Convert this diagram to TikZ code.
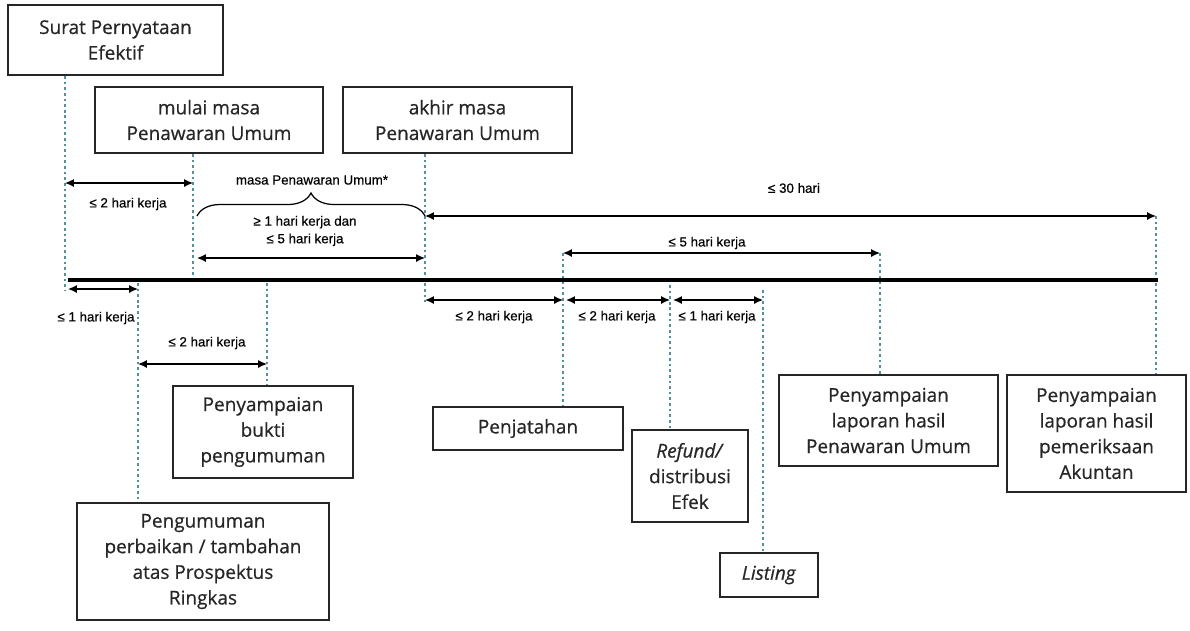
\documentclass[tikz,border=0pt]{standalone}
\usepackage{fontspec}
\setmainfont{Open Sans}[FakeBold=0.6]
\newfontfamily\labelfont{Liberation Sans}[FakeBold=0.5]
\usetikzlibrary{arrows.meta,decorations.pathreplacing}

\definecolor{guidecol}{RGB}{84,146,155}

\begin{document}
\begin{tikzpicture}[x=0.02cm,y=-0.02cm,
  box/.style={draw=black!85,line width=1.3pt,align=center,inner sep=0pt,
    text=black!85,font=\fontsize{10.8}{14.6}\selectfont},
  guide/.style={guidecol,line width=1.5pt,dash pattern=on 1.5pt off 1.7pt},
  span/.style={{Latex[length=5pt,width=4.5pt]}-{Latex[length=5pt,width=4.5pt]},line width=0.7pt},
  lbl/.style={inner sep=0pt,align=center,font=\labelfont\fontsize{7.6}{10}\selectfont}]
  \useasboundingbox (0,0) rectangle (1190,630);

  % boxes above the line
  \node[box,minimum width=4.3cm,minimum height=1.4cm] (spe) at (115.5,40) {Surat Pernyataan\\Efektif};
  \node[box,minimum width=4.56cm,minimum height=1.32cm] (mulai) at (209,120) {mulai masa\\Penawaran Umum};
  \node[box,minimum width=4.58cm,minimum height=1.32cm] (akhir) at (457.5,120) {akhir masa\\Penawaran Umum};

  % boxes below the line
  \node[box,minimum width=3.6cm,minimum height=1.84cm] (bukti) at (263,432) {Penyampaian\\bukti\\pengumuman};
  \node[box,minimum width=5.04cm,minimum height=2.34cm] (ralat) at (203,561.5) {Pengumuman\\perbaikan / tambahan\\atas Prospektus\\Ringkas};
  \node[box,minimum width=3.8cm,minimum height=0.86cm] (jatah) at (528,428.5) {Penjatahan};
  \node[box,minimum width=2.32cm,minimum height=1.84cm] (refund) at (690,476) {\textit{Refund/}\\distribusi\\Efek};
  \node[box,minimum width=1.96cm,minimum height=0.88cm] (listing) at (769,575) {\textit{Listing}};
  \node[box,minimum width=4.38cm,minimum height=1.82cm] (lapor) at (888.5,420.5) {Penyampaian\\laporan hasil\\Penawaran Umum};
  \node[box,minimum width=3.58cm,minimum height=2.34cm] (akuntan) at (1096.5,433.5) {Penyampaian\\laporan hasil\\pemeriksaan\\Akuntan};

  % points on the time line
  \coordinate (tSpe) at (65,280);
  \coordinate (tMulai) at (193,280);
  \coordinate (tAkhir) at (425,280);
  \coordinate (tRalat) at (138,280);
  \coordinate (tBukti) at (267,280);
  \coordinate (tJatah) at (563,280);
  \coordinate (tRefund) at (670,280);
  \coordinate (tList) at (763,280);
  \coordinate (tLapor) at (880,280);
  \coordinate (tAkun) at (1156,280);

  % dotted guides
  \draw[guide] (tSpe |- spe.south) -- ([yshift=-0.2cm]tSpe);
  \draw[guide] (tMulai |- mulai.south) -- (tMulai);
  \draw[guide] (tAkhir |- akhir.south) -- ([yshift=-0.44cm]tAkhir);
  \draw[guide] ([yshift=-0.06cm]tRalat) -- (tRalat |- ralat.north);
  \draw[guide] ([yshift=-0.06cm]tBukti) -- (tBukti |- bukti.north);
  \draw[guide] ([yshift=0.54cm]tJatah) -- (tJatah |- jatah.north);
  \draw[guide] ([yshift=-0.1cm]tRefund) -- (tRefund |- refund.north);
  \draw[guide] ([yshift=-0.2cm]tList) -- (tList |- listing.north);
  \draw[guide] ([yshift=0.54cm]tLapor) -- (tLapor |- lapor.north);
  \draw[guide] ([yshift=1.28cm]tAkun) -- (tAkun |- akuntan.north);

  % time line
  \draw[line width=2.4pt] ([xshift=0.06cm]tSpe) -- ([xshift=0.04cm]tAkun);

  % spans above the line
  \draw[span] (tSpe |- 0,183) -- (tMulai |- 0,183);
  \node[lbl] (l1) at (128,204) {≤ 2 hari kerja};
  \node[lbl] (l2) at (312,180) {masa Penawaran Umum*};
  \draw[decorate,decoration={brace,amplitude=0.46cm},line width=0.7pt] (197,216) -- (425,216);
  \node[lbl] (l3) at (305,231) {≥ 1 hari kerja dan\\≤ 5 hari kerja};
  \draw[span] ([xshift=0.08cm]tMulai |- 0,258) -- (tAkhir |- 0,258);
  \draw[span] (tAkhir |- 0,216) -- (tAkun |- 0,216);
  \node[lbl] (l4) at (794,188) {≤ 30 hari};
  \draw[span] (tJatah |- 0,253) -- (tLapor |- 0,253);
  \node[lbl] (l5) at (707,243) {≤ 5 hari kerja};

  % spans below the line
  \draw[span] ([xshift=0.06cm]tSpe |- 0,289) -- (tRalat |- 0,289);
  \node[lbl] (l6) at (96,318) {≤ 1 hari kerja};
  \draw[span] (tRalat |- 0,364) -- (tBukti |- 0,364);
  \node[lbl] (l7) at (207,343) {≤ 2 hari kerja};
  \draw[span] (tAkhir |- 0,300) -- (tJatah |- 0,300);
  \node[lbl] (l8) at (494,317) {≤ 2 hari kerja};
  \draw[span] ([xshift=0.06cm]tJatah |- 0,300) -- (tRefund |- 0,300);
  \node[lbl] (l9) at (617,317) {≤ 2 hari kerja};
  \draw[span] ([xshift=0.06cm]tRefund |- 0,300) -- (tList |- 0,300);
  \node[lbl] (l10) at (717,317) {≤ 1 hari kerja};
\end{tikzpicture}
\end{document}
